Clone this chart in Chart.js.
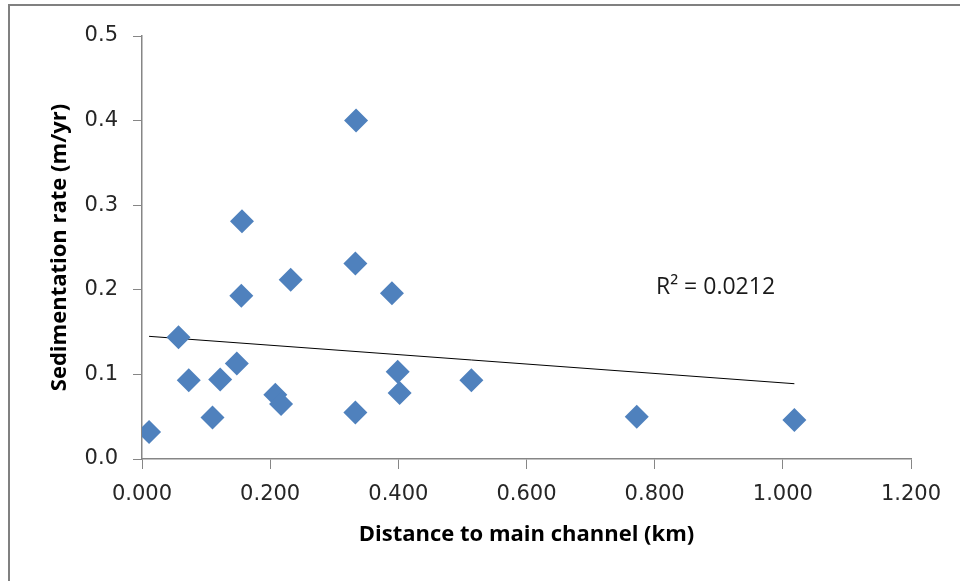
<!DOCTYPE html>
<html>
<head>
<meta charset="utf-8">
<script src="https://cdn.jsdelivr.net/npm/chart.js"></script>
<style>
  html, body { margin: 0; padding: 0; background: #fff; overflow: hidden; }
  #frame {
    position: absolute; left: 8px; top: 4px; width: 1000px; height: 1000px;
    border: 2px solid #808080; box-sizing: border-box;
  }
  #wrap { position: absolute; left: 0; top: 0; width: 960px; height: 581px; }
</style>
</head>
<body>
<div id="frame"></div>
<div id="wrap"><canvas id="chart" width="960" height="581"></canvas></div>
<script>
// distance to main channel (km)
const distanceKm = [
  0.011, 0.057, 0.073, 0.110, 0.122, 0.148, 0.155, 0.156, 0.208, 0.217,
  0.232, 0.333, 0.333, 0.334, 0.390, 0.399, 0.402, 0.514, 0.772, 1.018,
];
// sedimentation rate (m/yr)
const sedRate = [
  0.032, 0.144, 0.093, 0.049, 0.094, 0.113, 0.193, 0.281, 0.076, 0.065,
  0.212, 0.231, 0.055, 0.400, 0.196, 0.103, 0.078, 0.093, 0.050, 0.046,
];
// linear trendline ends as drawn
const trendX = [0.011, 1.018];
const trendY = [0.145, 0.089];
const r2Label = "R\u00b2 = 0.0212";

const xTicks = [0, 0.2, 0.4, 0.6, 0.8, 1.0, 1.2];
const yTicks = [0, 0.1, 0.2, 0.3, 0.4, 0.5];

const AXIS_GREY = "#868686";
const TICK_FONT = { family: "'DejaVu Sans', sans-serif", size: 21 };
const TITLE_FONT = { family: "'Open Sans', sans-serif", size: 22, weight: "bold" };

const r2Plugin = {
  id: "r2Label",
  afterDatasetsDraw(chart) {
    const { ctx, scales } = chart;
    ctx.save();
    ctx.font = "23px 'Open Sans', sans-serif";
    ctx.fillStyle = "#1a1a1a";
    ctx.textAlign = "left";
    ctx.textBaseline = "middle";
    ctx.fillText(r2Label, scales.x.getPixelForValue(0.802), scales.y.getPixelForValue(0.203));
    ctx.restore();
  },
};

new Chart(document.getElementById("chart"), {
  type: "scatter",
  data: {
    datasets: [
      {
        label: "Sedimentation rate",
        data: distanceKm.map((x, i) => ({ x, y: sedRate[i] })),
        pointStyle: "rectRot",
        pointRadius: 12,
        pointHoverRadius: 12,
        backgroundColor: "#4F81BD",
        borderColor: "#4F81BD",
        borderWidth: 0,
      },
      {
        type: "line",
        label: "Trend",
        data: trendX.map((x, i) => ({ x, y: trendY[i] })),
        borderColor: "#000000",
        borderWidth: 1,
        pointRadius: 0,
        fill: false,
      },
    ],
  },
  options: {
    responsive: false,
    animation: false,
    events: [],
    layout: { padding: { left: 43, top: 36, right: 49, bottom: 29 } },
    plugins: { legend: { display: false }, tooltip: { enabled: false } },
    scales: {
      x: {
        type: "linear",
        min: 0,
        max: 1.2,
        afterBuildTicks: (scale) => { scale.ticks = xTicks.map((value) => ({ value })); },
        afterFit: (scale) => { scale.height = 93; },
        ticks: {
          color: "#262626",
          font: TICK_FONT,
          padding: 13,
          maxRotation: 0,
          callback: (v) => v.toFixed(3),
        },
        grid: {
          drawOnChartArea: false,
          drawTicks: true,
          tickLength: 10,
          color: AXIS_GREY,
        },
        border: { color: AXIS_GREY, width: 1.5 },
        title: {
          display: true,
          text: "Distance to main channel (km)",
          color: "#000",
          font: TITLE_FONT,
        },
      },
      y: {
        type: "linear",
        min: 0,
        max: 0.5,
        afterBuildTicks: (scale) => { scale.ticks = yTicks.map((value) => ({ value })); },
        afterFit: (scale) => { scale.width = 99; },
        ticks: {
          color: "#262626",
          font: TICK_FONT,
          padding: 15,
          callback: (v) => v.toFixed(1),
        },
        grid: {
          drawOnChartArea: false,
          drawTicks: true,
          tickLength: 9,
          color: AXIS_GREY,
        },
        border: { color: AXIS_GREY, width: 1.5 },
        title: {
          display: true,
          text: "Sedimentation rate (m/yr)",
          color: "#000",
          font: TITLE_FONT,
        },
      },
    },
  },
  plugins: [r2Plugin],
});
</script>
</body>
</html>
